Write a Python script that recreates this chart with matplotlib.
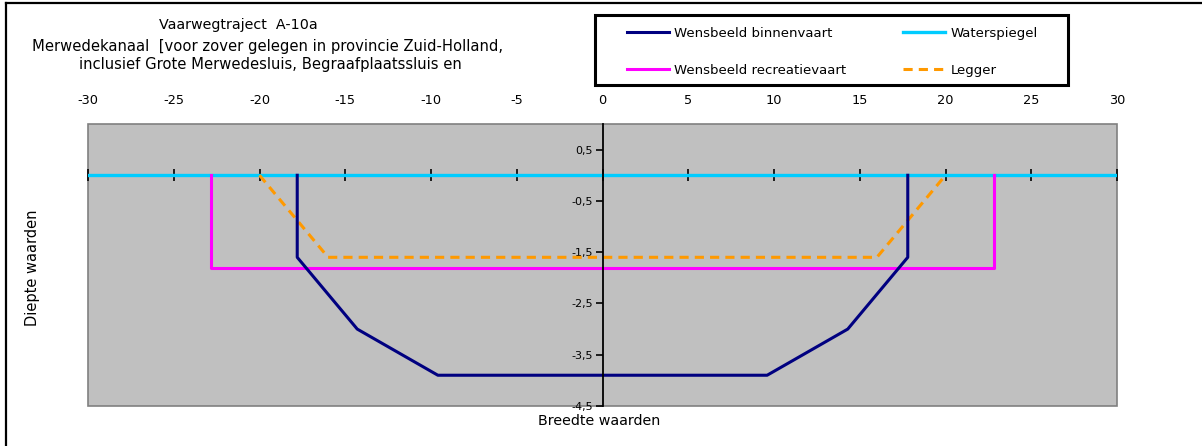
import matplotlib
matplotlib.use("Agg")
import matplotlib.pyplot as plt
from matplotlib.lines import Line2D
from matplotlib.patches import Rectangle
from matplotlib.ticker import FuncFormatter

# ---- data ----
binnen_x = [-17.8, -17.8, -14.3, -9.6, 9.6, 14.3, 17.8, 17.8]
binnen_y = [0.0, -1.6, -3.0, -3.9, -3.9, -3.0, -1.6, 0.0]
recreatie_x = [-22.8, -22.8, 22.8, 22.8]
recreatie_y = [0.0, -1.8, -1.8, 0.0]
water_x = [-30, 30]
water_y = [0.0, 0.0]
legger_x = [-20.0, -16.0, 16.0, 20.0]
legger_y = [0.0, -1.6, -1.6, 0.0]
x_ticks = [-30, -25, -20, -15, -10, -5, 0, 5, 10, 15, 20, 25, 30]
y_ticks = [0.5, -0.5, -1.5, -2.5, -3.5, -4.5]

title = "Vaarwegtraject  A-10a"
sub1 = "Merwedekanaal  [voor zover gelegen in provincie Zuid-Holland,"
sub2 = "inclusief Grote Merwedesluis, Begraafplaatssluis en"

plt.rcParams['font.family'] = ['DejaVu Sans']
FS = 9.3

W, H = 1202, 446
fig = plt.figure(figsize=(W / 100, H / 100), dpi=100)

def fx(px):
    return px / W

def fy(py):
    return 1 - py / H

# outer chart border (cut off on right and bottom)
fig.add_artist(Line2D([fx(6), 1.0], [fy(3), fy(3)], color='black', lw=1.6, transform=fig.transFigure))
fig.add_artist(Line2D([fx(6), fx(6)], [fy(3), 0.0], color='black', lw=1.6, transform=fig.transFigure))

left, right, top, bottom = 88, 1117, 124, 406
ax = fig.add_axes([fx(left), fy(bottom), fx(right - left), (bottom - top) / H])
ax.set_facecolor('#C0C0C0')
ax.set_xlim(-30, 30)
ax.set_ylim(-4.5, 1.0)

ax.add_patch(Rectangle((0, 0), 1, 1, transform=ax.transAxes, fill=False,
                       edgecolor='#808080', lw=1.2, clip_on=False, zorder=1))

for s in ['top', 'right']:
    ax.spines[s].set_visible(False)
ax.spines['left'].set_position(('data', 0))
ax.spines['left'].set_color('black')
ax.spines['left'].set_linewidth(1.3)
ax.spines['left'].set_zorder(7)
ax.spines['bottom'].set_position(('data', 0))
ax.spines['bottom'].set_visible(False)

ax.set_xticks(x_ticks)
ax.tick_params(axis='x', direction='inout', length=8.5, width=1.2, color='black',
               labelbottom=False)
ax.set_yticks(y_ticks)
ax.yaxis.set_major_formatter(FuncFormatter(lambda v, p: f"{v:.1f}".replace('.', ',')))
ax.tick_params(axis='y', direction='out', length=5, width=1.2, pad=2, labelsize=8)

# top tick labels
sec = ax.secondary_xaxis('top')
sec.set_xticks(x_ticks)
sec.xaxis.set_major_formatter(FuncFormatter(lambda v, p: f"{int(v)}"))
sec.tick_params(length=0, pad=12, labelsize=FS)
sec.spines['top'].set_visible(False)

# series
l_water, = ax.plot(water_x, water_y, color='#00CCFF', lw=2.4, zorder=3, label='Waterspiegel')
l_recr, = ax.plot(recreatie_x, recreatie_y, color='#FF00FF', lw=2.2, zorder=4,
                  label='Wensbeeld recreatievaart')
l_legg, = ax.plot(legger_x, legger_y, color='#FF9900', lw=2.2, ls=(0, (3, 2)), zorder=5,
                  label='Legger')
l_binn, = ax.plot(binnen_x, binnen_y, color='#000080', lw=2.2, zorder=6,
                  label='Wensbeeld binnenvaart')

# titles
fig.text(fx(238), fy(25), title, ha='center', va='center', fontsize=10.3)
fig.text(fx(268), fy(46), sub1, ha='center', va='center', fontsize=10.6)
fig.text(fx(270), fy(65), sub2, ha='center', va='center', fontsize=10.6)

fig.text(fx(599), fy(421), "Breedte waarden", ha='center', va='center', fontsize=10.3)
fig.text(fx(32), fy(268), "Diepte waarden", ha='center', va='center', rotation=90,
         fontsize=10.5)

# legend frame
fig.add_artist(Rectangle((fx(595), fy(85)), fx(1068 - 595), (85 - 15) / H,
                         transform=fig.transFigure, facecolor='white',
                         edgecolor='black', lw=2.2, zorder=9))

common = dict(loc='upper left', fontsize=9.5, frameon=False, handlelength=3.2,
              handletextpad=0.4, labelspacing=1.8, borderpad=0, borderaxespad=0)
leg1 = fig.legend(handles=[l_binn, l_recr], bbox_to_anchor=(fx(627), fy(27)), **common)
leg2 = fig.legend(handles=[l_water, l_legg], bbox_to_anchor=(fx(903), fy(27)), **common)
leg1.set_zorder(10)
leg2.set_zorder(10)

fig.savefig('out.png', dpi=100)
